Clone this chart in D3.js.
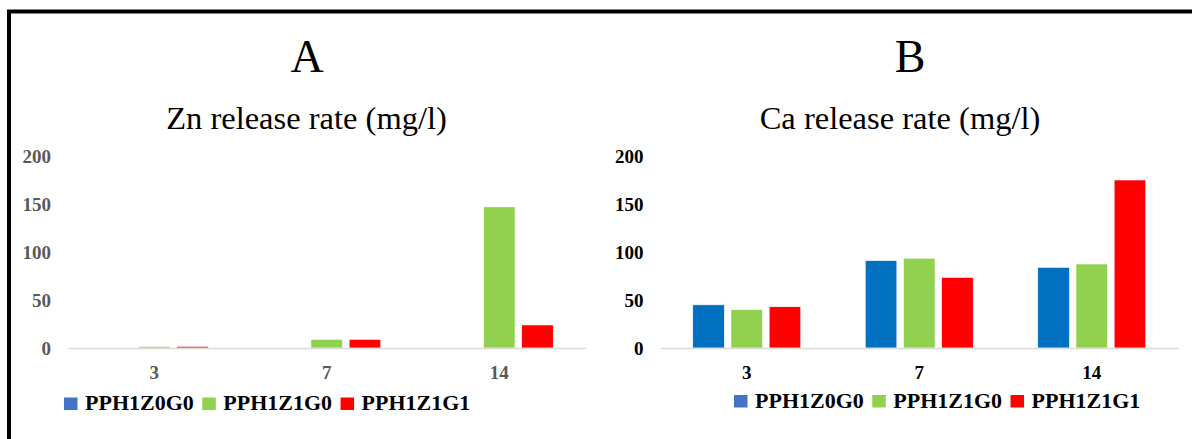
<!DOCTYPE html>
<html>
<head>
<meta charset="utf-8">
<script src="https://cdn.jsdelivr.net/npm/d3@7/dist/d3.min.js"></script>
<style>
  html, body { margin: 0; padding: 0; background: #fff; }
  svg { display: block; }
  text { font-family: "Liberation Serif", "Times New Roman", serif; }
</style>
</head>
<body>
<svg id="chart" width="1192" height="439"></svg>
<script>
// ---- data ----
const categories = ["3", "7", "14"];
const seriesNames = ["PPH1Z0G0", "PPH1Z1G0", "PPH1Z1G1"];
const znValues = {
  "PPH1Z0G0": [0, 0, 0],
  "PPH1Z1G0": [1.7, 9, 147],
  "PPH1Z1G1": [1.7, 9, 24]
};
const caValues = {
  "PPH1Z0G0": [45, 91, 84],
  "PPH1Z1G0": [40, 93.5, 87.5],
  "PPH1Z1G1": [43, 73.5, 175]
};
const yTicks = [0, 50, 100, 150, 200];
const panelLetters = ["A", "B"];
const panelTitles = ["Zn release rate (mg/l)", "Ca release rate (mg/l)"];

// ---- style ----
const barColors = { "PPH1Z0G0": "#0070C0", "PPH1Z1G0": "#92D050", "PPH1Z1G1": "#FF0000" };
const legendColors = { "PPH1Z0G0": "#4472C4", "PPH1Z1G0": "#92D050", "PPH1Z1G1": "#FF0000" };

const svg = d3.select("#chart");

// outer frame (extends beyond the right/bottom edges)
svg.append("path")
  .attr("d", "M9,460 L9,11.5 L1210,11.5")
  .attr("fill", "none")
  .attr("stroke", "#000")
  .attr("stroke-width", 4);

const panels = [
  { values: znValues, x0: 68, x1: 585.5, letterX: 307, titleX: 306.5, tickColor: "#595959",
    legendX: 64, legendSqY: 397.5, legendBase: 410 },
  { values: caValues, x0: 660.5, x1: 1178, letterX: 910, titleX: 900, tickColor: "#000",
    legendX: 734, legendSqY: 395, legendBase: 408 }
];

const yTop = 156, yBottom = 348;

panels.forEach((p, i) => {
  const g = svg.append("g");

  // titles
  g.append("text")
    .attr("x", p.letterX).attr("y", 71.5)
    .attr("text-anchor", "middle")
    .attr("font-size", 46)
    .attr("fill", "#000")
    .text(panelLetters[i]);
  g.append("text")
    .attr("x", p.titleX).attr("y", 128.5)
    .attr("text-anchor", "middle")
    .attr("font-size", 32.5)
    .attr("fill", "#000")
    .text(panelTitles[i]);

  const y = d3.scaleLinear().domain([0, 200]).range([yBottom, yTop]);
  const xCat = d3.scaleBand().domain(categories).range([p.x0, p.x1]).padding(0);
  const bw = xCat.bandwidth();
  const xSer = d3.scaleBand().domain(seriesNames)
    .range([bw * 0.187, bw * 0.813])
    .paddingInner(0.173).paddingOuter(0);

  // y axis labels
  const yAxis = d3.axisLeft(y).tickValues(yTicks).tickSize(0).tickPadding(17);
  const ya = g.append("g").attr("transform", `translate(${p.x0},0)`).call(yAxis);
  ya.select(".domain").remove();
  ya.selectAll("text")
    .attr("font-family", "Liberation Serif, Times New Roman, serif")
    .attr("font-size", 19)
    .attr("font-weight", "bold")
    .attr("fill", p.tickColor)
    .attr("dy", "0.34em");

  // bars
  const barData = [];
  seriesNames.forEach(s => {
    categories.forEach((c, ci) => barData.push({ s, c, v: p.values[s][ci] }));
  });
  g.append("g").selectAll("rect")
    .data(barData.filter(d => d.v > 0))
    .join("rect")
    .attr("x", d => xCat(d.c) + xSer(d.s))
    .attr("width", xSer.bandwidth())
    .attr("y", d => y(d.v))
    .attr("height", d => y(0) - y(d.v))
    .attr("fill", d => barColors[d.s])
    .attr("stroke", "#fff")
    .attr("stroke-width", 0.6);

  // x axis (baseline + category labels)
  const xAxis = d3.axisBottom(xCat).tickSize(0).tickPadding(18);
  const xa = g.append("g").attr("transform", `translate(0,${y(0)})`).call(xAxis);
  xa.select(".domain")
    .attr("stroke", "#D9D9D9")
    .attr("stroke-width", 1.5);
  xa.selectAll("text")
    .attr("font-family", "Liberation Serif, Times New Roman, serif")
    .attr("font-size", 19)
    .attr("font-weight", "bold")
    .attr("fill", p.tickColor);

  // legend
  const lg = g.append("g");
  let lx = p.legendX;
  seriesNames.forEach(s => {
    lg.append("rect")
      .attr("x", lx).attr("y", p.legendSqY)
      .attr("width", 13.5).attr("height", 12.5)
      .attr("fill", legendColors[s]);
    const t = lg.append("text")
      .attr("x", lx + 21).attr("y", p.legendBase)
      .attr("font-size", 22)
      .attr("font-weight", "bold")
      .attr("fill", "#000")
      .text(s);
    const w = t.node().getComputedTextLength();
    lx = lx + 21 + w + 8.5;
  });
});
</script>
</body>
</html>
